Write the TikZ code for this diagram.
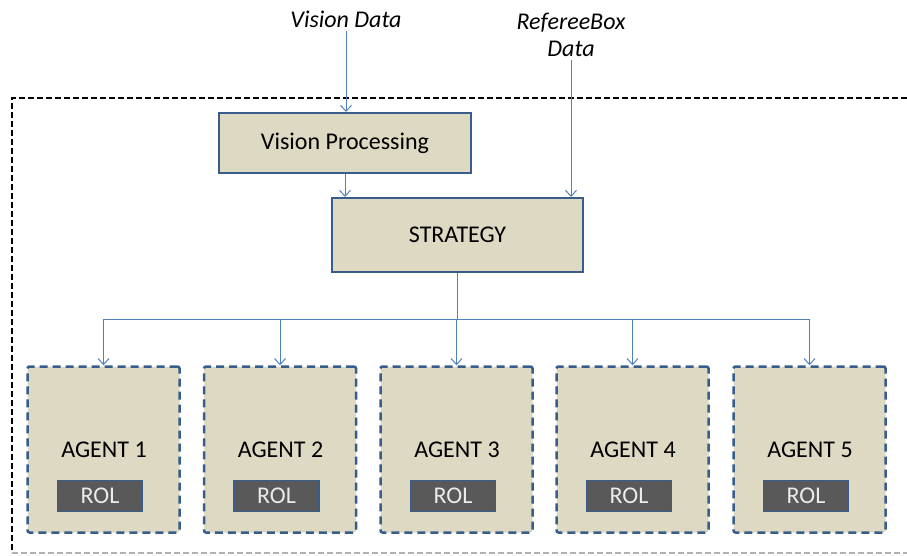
\documentclass[tikz,border=0pt]{standalone}
\usepackage{fontspec}
\setmainfont{Carlito}
\usetikzlibrary{arrows.meta}
\definecolor{boxfill}{HTML}{DDD9C3}
\definecolor{boxline}{HTML}{385D8A}
\definecolor{arrowblue}{HTML}{4F81BD}
\definecolor{rolfill}{HTML}{595959}
\begin{document}
\begin{tikzpicture}[x=1pt, y=-1pt,
  every node/.style={font=\fontsize{24}{27}\selectfont},
  block/.style={draw=boxline, line width=2pt, fill=boxfill, inner sep=0pt},
  agent/.style={draw=boxline, line width=2.5pt, dash pattern=on 8pt off 5pt, fill=boxfill, rounded corners=2pt, minimum width=152pt, minimum height=166pt},
  rol/.style={draw=boxline, line width=1.5pt, fill=rolfill, text=white!92!black, minimum width=85pt, minimum height=31pt, inner sep=0pt},
  flow/.style={draw=arrowblue, line width=1pt, -{Straight Barb[length=6pt,width=11pt]}},
  bus/.style={draw=arrowblue, line width=1pt}]
\useasboundingbox (0,0) rectangle (907,556);
%outer frame
\draw [line width=2pt, dash pattern=on 6pt off 3pt] (907,98) -- (12,98) -- (12,553);
\draw [gray!60, line width=1.5pt, dash pattern=on 6pt off 3pt] (12,553) -- (907,553);
%inputs
\node (vdata) at (346,19) {\itshape Vision Data};
\node [align=center] (rdata) at (571,35) {\itshape RefereeBox\\\itshape Data};
%processing blocks
\node [block, minimum width=252pt, minimum height=60pt] (vproc) at (345,143) {Vision Processing};
\node [block, minimum width=251pt, minimum height=74pt] (strat) at (457.5,235) {STRATEGY};
%agents
\node [agent] (agent1) at (103.5,449.5) {};
\node [agent] (agent2) at (280,449.5) {};
\node [agent] (agent3) at (456.5,449.5) {};
\node [agent] (agent4) at (632.5,449.5) {};
\node [agent] (agent5) at (809.5,449.5) {};
\node (name1) at (104,450) {AGENT 1};
\node (name2) at (280.5,450) {AGENT 2};
\node (name3) at (457,450) {AGENT 3};
\node (name4) at (633,450) {AGENT 4};
\node (name5) at (810,450) {AGENT 5};
\node [rol] (rol1) at (100,496) {ROL};
\node [rol] (rol2) at (276.5,496) {ROL};
\node [rol] (rol3) at (453,496) {ROL};
\node [rol] (rol4) at (629,496) {ROL};
\node [rol] (rol5) at (806,496) {ROL};
%connectors
\draw [flow] (vdata.south) -- (vdata.south |- vproc.north);
\draw [flow] (vproc.south) -- (vproc.south |- strat.north);
\draw [flow] (rdata.south) -- (rdata.south |- strat.north);
\draw [bus] (strat.south) -- ++(0,46) coordinate (split);
\draw [bus] (agent1.north |- split) -- (agent5.north |- split);
\draw [flow] (agent1.north |- split) -- (agent1.north);
\draw [flow] (agent2.north |- split) -- (agent2.north);
\draw [flow] (agent3.north |- split) -- (agent3.north);
\draw [flow] (agent4.north |- split) -- (agent4.north);
\draw [flow] (agent5.north |- split) -- (agent5.north);
\end{tikzpicture}
\end{document}
